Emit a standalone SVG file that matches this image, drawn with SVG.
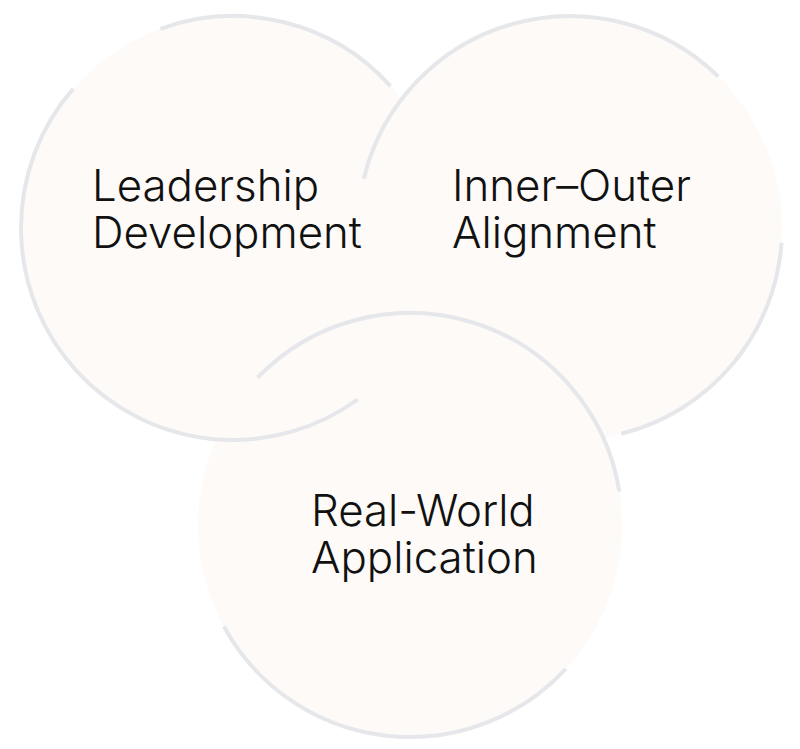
<svg xmlns="http://www.w3.org/2000/svg" width="800" height="749" viewBox="0 0 800 749">
<style>
.fill{fill:#fdfaf7;stroke:none}
.ring{fill:none;stroke:#e6e7ea;stroke-width:4;stroke-linecap:butt}
.lbl{font-family:Inter,"Liberation Sans",sans-serif;font-weight:300;font-size:43.8px;fill:#111}
</style>
<rect width="800" height="749" fill="#ffffff"/>
<g id="fills">
<circle class="fill" cx="233" cy="228" r="212"/>
<circle class="fill" cx="570" cy="228" r="212"/>
<circle class="fill" cx="410" cy="525" r="212"/>
</g>
<g id="connectors"></g>
<g id="node-leadership">
<path class="ring" d="M357.6,399.5 A212,212 0 0 1 73,88.9"/>
<path class="ring" d="M160.5,28.8 A212,212 0 0 1 390.5,86.1"/>
<text class="lbl" x="92" y="201">Leadership</text>
<text class="lbl" x="92" y="248">Development</text>
</g>
<g id="node-inner-outer">
<path class="ring" d="M363.8,178.9 A212,212 0 0 1 718.3,76.5"/>
<path class="ring" d="M781.5,242.8 A212,212 0 0 1 621.3,433.7"/>
<text class="lbl" x="452" y="201">Inner–Outer</text>
<text class="lbl" x="452" y="248">Alignment</text>
</g>
<g id="node-real-world">
<path class="ring" d="M257.5,377.7 A212,212 0 0 1 619.4,491.8"/>
<path class="ring" d="M565.8,668.8 A212,212 0 0 1 223.9,626.5"/>
<text class="lbl" x="311" y="526">Real-World</text>
<text class="lbl" x="311" y="573">Application</text>
</g>
</svg>
